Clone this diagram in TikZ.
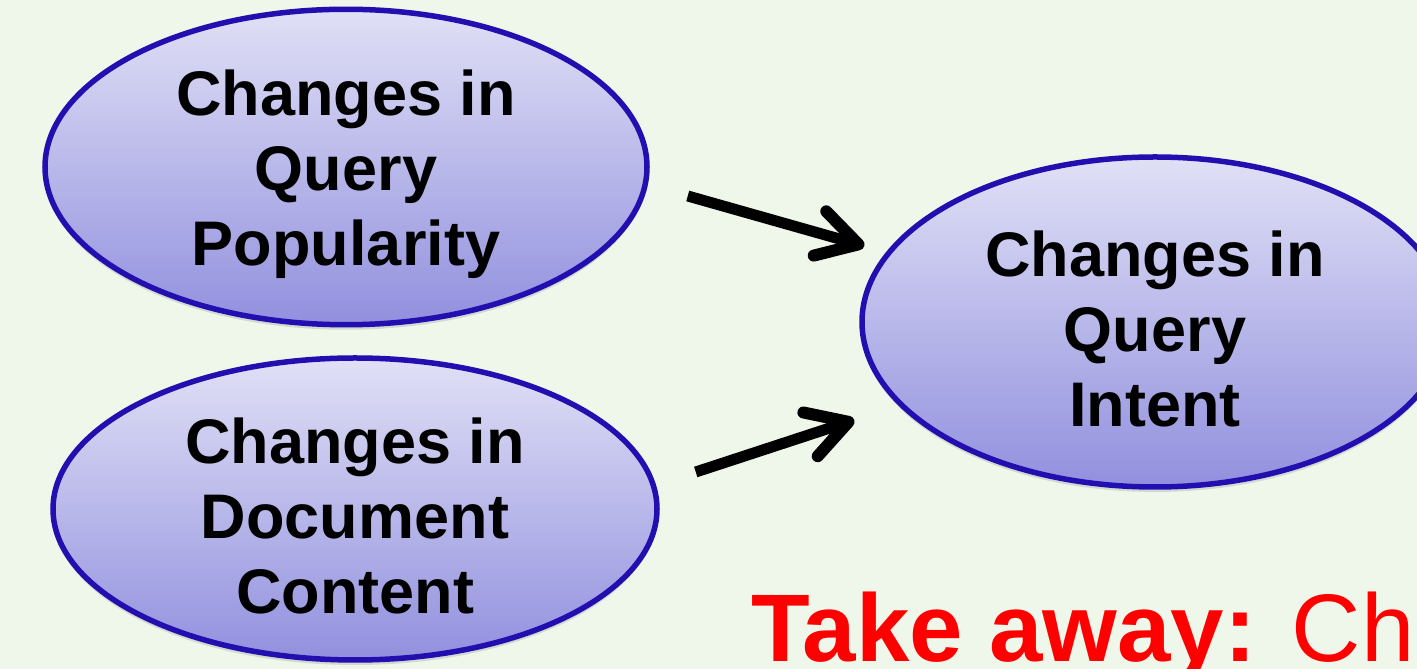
\documentclass[tikz,border=0pt]{standalone}
\usepackage{fontspec}
\setmainfont{Liberation Sans}
\usetikzlibrary{arrows.meta,shadows,shapes.geometric}
\definecolor{slidebg}{RGB}{239,247,235}
\definecolor{ringblue}{RGB}{35,15,175}
\definecolor{shadetop}{RGB}{224,224,246}
\definecolor{shadebot}{RGB}{146,144,222}
\newcommand{\lowstrut}{\rule{0pt}{60pt}}
\tikzset{
  bubble/.style={ellipse,draw=ringblue,line width=5.5pt,top color=shadetop,bottom color=shadebot,
    inner sep=0pt,align=center,font=\fontsize{63}{75}\selectfont\bfseries,
    drop shadow={opacity=0.25,shadow xshift=0pt,shadow yshift=-5pt}},
  flow/.style={line width=11pt,-{Straight Barb[length=40pt,width=46pt,line width=12pt,round]}}
}
\begin{document}
\begin{tikzpicture}[x=1pt,y=1pt]
\useasboundingbox (0,0) rectangle (1417,669);
\clip (0,0) rectangle (1417,669);
\fill[slidebg] (0,0) rectangle (1417,669);
\node[bubble,minimum width=602pt,minimum height=310pt] (pop) at (346,502) {\lowstrut Changes in\\Query\\Popularity};
\node[bubble,minimum width=604pt,minimum height=302pt] (content) at (355,160) {\lowstrut Changes in\\Document\\Content};
\node[bubble,minimum width=586pt,minimum height=330pt] (intent) at (1155,347) {\lowstrut Changes in\\Query\\Intent};
\draw[flow] ([xshift=38pt,yshift=-29pt]pop.east) -- ([xshift=5pt,yshift=76pt]intent.west);
\draw[flow] ([xshift=36pt,yshift=37pt]content.east) -- ([xshift=-5pt,yshift=-98pt]intent.west);
\node[anchor=base west,inner sep=0pt,text=red,font=\fontsize{96}{110}\selectfont] (takeaway) at (751,7) {\textbf{Take away:} Changes};
\end{tikzpicture}
\end{document}
